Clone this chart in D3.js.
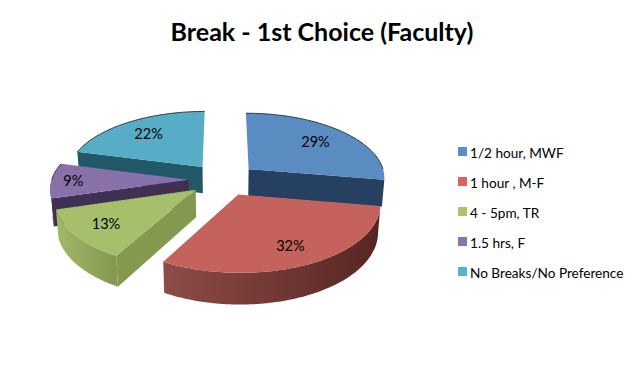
<!DOCTYPE html>
<html><head><meta charset="utf-8">
<script src="https://cdn.jsdelivr.net/npm/d3@7"></script>
<style>html,body{margin:0;background:#fff}svg{display:block}text{font-family:Lato,"Open Sans",sans-serif;fill:#000}</style>
</head><body><svg id="c" width="642" height="374"></svg>
<script>
const chartTitle = "Break - 1st Choice (Faculty)";
const categories = ["1/2 hour, MWF","1 hour , M-F","4 - 5pm, TR","1.5 hrs, F","No Breaks/No Preference"];
const percents = [29,32,13,9,22];
const topColors = ["#5a8cc1","#c4625b","#a5bf6a","#8a70a8","#57adc5"];
const legendColors = ["#5a8fcb","#d9625e","#a9c766","#8c72b3","#52b4cf"];
const faceColors = ["#254061","#5e2a27","#83994f","#403152","#215968"];
const sideLight = ["#4a72a0","#8e4c49","#a2b96a","#6b5688","#3f8aa0"];
const sideDark = ["#254061","#572622","#83984e","#403152","#215968"];
const labelFrac = [.7,.76,.76,.84,.72];
const drawOrder = [4,3,0,2,1];

const W=642,H=374,R=137,RY=65,CX=223,CY=179.5,K=.12,EXPLODE=.25,DEPTH=27;
const sx=d3.scaleLinear().domain([0,1]).range([CX,CX+R]);
const sy=d3.scaleLinear().domain([0,1]).range([CY,CY+RY]);
const svg=d3.select("#c");
const defs=svg.append("defs");
const arcs=d3.pie().sort(null).value(d=>d)(percents);
const line=d3.line().x(d=>d[0]).y(d=>d[1]);

function proj(X,Z,drop){const w=1/(1-K*Z);const n=drop?.985:1;
  return [sx(X*w*n),sy(Z*w)+(drop?DEPTH*w:0)];}
function arcPts(a0,a1,ex,ez,drop,f=1){
  const n=Math.max(2,Math.ceil((a1-a0)/.02));
  return d3.range(n+1).map(i=>{const a=a0+(a1-a0)*i/n;
    return proj(ex+f*Math.sin(a),ez-f*Math.cos(a),drop);});}

const slices=arcs.map((a,i)=>{const m=(a.startAngle+a.endAngle)/2;
  return {i,a0:a.startAngle,a1:a.endAngle,m,ex:EXPLODE*Math.sin(m),ez:-EXPLODE*Math.cos(m)};});

function facePath(s,ang){
  const at=proj(s.ex,s.ez,false),ab=proj(s.ex,s.ez,true);
  const ot=proj(s.ex+Math.sin(ang),s.ez-Math.cos(ang),false),ob=proj(s.ex+Math.sin(ang),s.ez-Math.cos(ang),true);
  return line([at,ot,ob,ab])+"Z";
}
const G=svg.append("g");
drawOrder.forEach(i=>{
  const s=slices[i],g=G.append("g");
  // flat cut faces turned toward the viewer
  if(i===0) g.append("path").attr("d",facePath(s,s.a1)).attr("fill",faceColors[i]);
  if(i===2||i===3||i===4) g.append("path").attr("d",facePath(s,s.a0)).attr("fill",faceColors[i]);
  // curved outer wall, only the part facing the viewer
  const lo=Math.max(s.a0,Math.PI/2),hi=Math.min(s.a1,Math.PI*1.5);
  if(hi>lo && i!==0){
    const t=arcPts(lo,hi,s.ex,s.ez,false),b=arcPts(lo,hi,s.ex,s.ez,true).reverse();
    const gid="side"+i,xs=t.map(p=>p[0]);
    const gr=defs.append("linearGradient").attr("id",gid).attr("gradientUnits","userSpaceOnUse")
      .attr("x1",d3.min(xs)).attr("x2",d3.max(xs)).attr("y1",0).attr("y2",0);
    gr.append("stop").attr("offset",0).attr("stop-color",sideLight[i]);
    gr.append("stop").attr("offset",1).attr("stop-color",sideDark[i]);
    g.append("path").attr("d",line(t.concat(b))+"Z").attr("fill",`url(#${gid})`);
  }
  // top surface
  const apex=proj(s.ex,s.ez,false);
  const rim=arcPts(s.a0,s.a1,s.ex,s.ez,false);
  g.append("path").attr("d",line([apex,...rim])+"Z").attr("fill",topColors[i]);
  // dark hairline along the far rim
  if(i===0||i===3||i===4){
    const from=i===3?Math.max(s.a0,Math.PI*1.5):s.a0;
    const to=i===0?Math.min(s.a1,Math.PI/2):s.a1;
    g.append("path").attr("d",line(arcPts(from,to,s.ex,s.ez,false))).attr("fill","none")
      .attr("stroke","#1d2b38").attr("stroke-width",.9);
  }
});
// data labels
slices.forEach(s=>{
  const f=labelFrac[s.i];
  const p=proj(s.ex+f*Math.sin(s.m),s.ez-f*Math.cos(s.m),false);
  svg.append("text").attr("x",p[0]).attr("y",p[1]).attr("dy","0.35em")
    .attr("text-anchor","middle").attr("font-size",14.5).text(percents[s.i]+"%");
});
svg.append("text").attr("x",322).attr("y",41).attr("text-anchor","middle")
  .attr("font-size",25).attr("font-weight",700).text(chartTitle);
const ly=d3.scalePoint().domain(categories).range([153,273]);
const lg=svg.append("g").selectAll("g").data(categories).join("g")
  .attr("transform",d=>`translate(0,${ly(d)})`);
lg.append("rect").attr("x",458).attr("y",-6).attr("width",9).attr("height",9)
  .attr("fill",(d,i)=>legendColors[i]);
lg.append("text").attr("x",470).attr("y",0).attr("dy","0.35em").attr("font-size",13.6).text(d=>d);
</script></body></html>
